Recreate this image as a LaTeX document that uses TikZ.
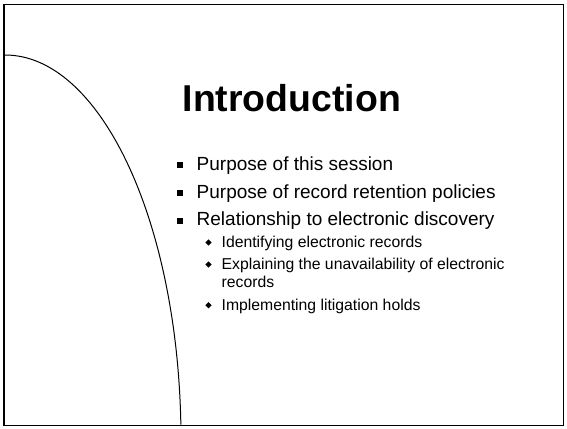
\documentclass[tikz,border=0pt]{standalone}
\usepackage{fontspec}
\setmainfont{Liberation Sans}
\usetikzlibrary{shapes.geometric}
\begin{document}
\begin{tikzpicture}[x=1pt,y=-1pt,
  frame/.style={draw=black,line width=1.6pt},
  arcline/.style={draw=black,line width=1pt},
  titletext/.style={anchor=base west,inner sep=0pt,font=\fontsize{37.4}{40}\selectfont\bfseries},
  mainitem/.style={anchor=base west,inner sep=0pt,font=\fontsize{19}{22}\selectfont},
  subitem/.style={anchor=base west,inner sep=0pt,font=\fontsize{15.75}{18}\selectfont},
  sqbullet/.style={fill=black,minimum size=6pt,inner sep=0pt,rectangle},
  dmbullet/.style={fill=black,diamond,minimum size=6.5pt,inner sep=0pt}
]
\useasboundingbox (0,0) rectangle (567,428);
\fill[white] (0,0) rectangle (567,428);
\draw[frame] (4,4.5) rectangle (563.5,425.5);
\coordinate (cs) at (5,55);
\draw[arcline] (cs) arc[start angle=-90, end angle=-2.3, x radius=176, y radius=385];

\node[titletext] (title) at (182.5,111.5) {Introduction};

\node[sqbullet] (b1) at (180.3,165) {};
\node[mainitem] (t1) at (196.5,170) {Purpose of this session};
\node[sqbullet] (b2) at (180.3,193) {};
\node[mainitem] (t2) at (196.5,198) {Purpose of record retention policies};
\node[sqbullet] (b3) at (180.3,220.5) {};
\node[mainitem] (t3) at (196.5,225.5) {Relationship to electronic discovery};

\node[dmbullet] (d1) at (208.5,242.5) {};
\node[subitem] (s1) at (221.5,247.3) {Identifying electronic records};
\node[dmbullet] (d2) at (208.5,264.5) {};
\node[subitem] (s2) at (221.5,269.3) {Explaining the unavailability of electronic};
\node[subitem] (s2b) at (221.5,287.3) {records};
\node[dmbullet] (d3) at (208.5,305.2) {};
\node[subitem] (s3) at (221.5,310) {Implementing litigation holds};
\end{tikzpicture}
\end{document}
